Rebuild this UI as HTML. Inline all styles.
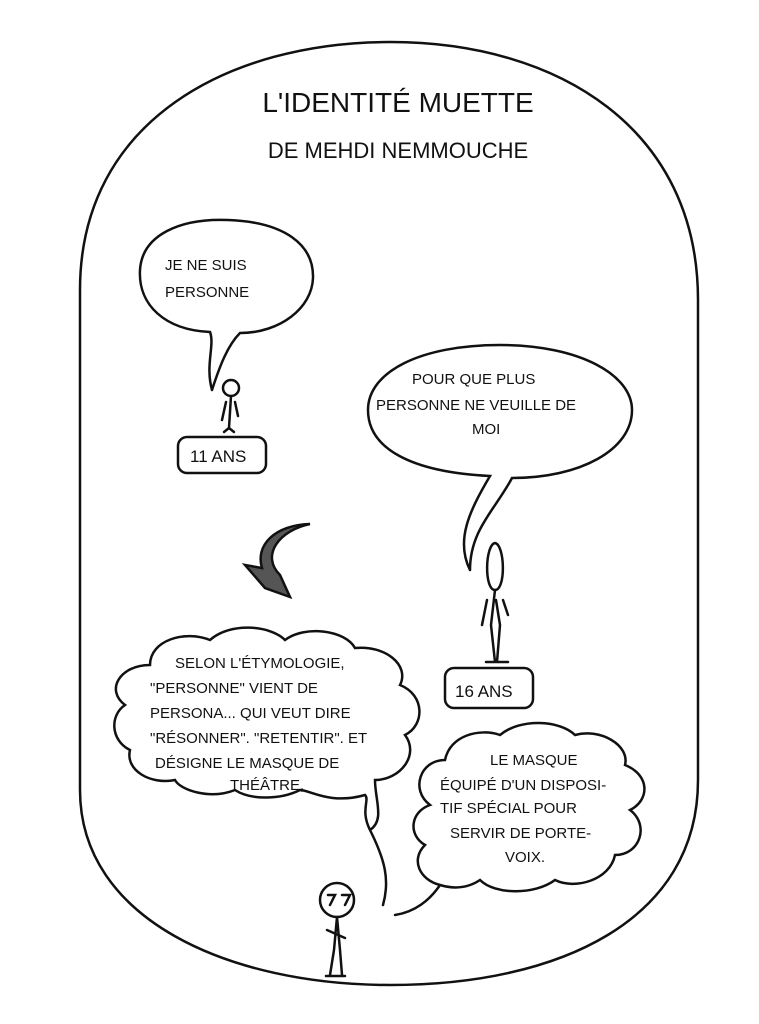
<!DOCTYPE html>
<html><head><meta charset="utf-8"><style>
html,body{margin:0;padding:0;background:#fff;}
svg{display:block}
text{font-family:"Liberation Sans",sans-serif;fill:#111;font-variant:small-caps;text-transform:uppercase}
</style></head><body>
<svg width="759" height="1024" viewBox="0 0 759 1024" xmlns="http://www.w3.org/2000/svg">
<g fill="none" stroke="#111" stroke-width="2.5" stroke-linecap="round">
<!-- frame -->
<path d="M80,290 C80,120 230,42 390,42 C560,42 698,130 698,300 L698,780 C698,920 560,985 390,985 C230,985 80,920 80,790 Z"/>
<!-- bubble 1 -->
<path d="M212,390 C205,365 215,345 210,332 C165,330 138,305 140,270 C142,235 180,218 228,220 C285,222 314,245 313,278 C312,308 280,333 240,333 C228,345 220,365 212,390"/>
<!-- fig 11 -->
<circle cx="231" cy="388" r="8"/>
<path d="M231,396 L229,428 M226,402 L222,420 M235,402 L238,416 M229,428 L224,432 M229,428 L234,432"/>
<rect x="178" y="437" width="88" height="36" rx="9"/>
<!-- bubble 2 -->
<path d="M470,570 C455,540 470,510 490,476 C410,472 368,448 368,410 C368,372 420,345 500,345 C580,345 632,375 632,410 C632,450 580,478 512,478 C495,510 470,530 470,570"/>
<!-- fig 16 -->
<path d="M495,543 C485,545 484,590 495,590 C506,590 505,545 495,543 Z"/>
<path d="M495,590 L491,625 L495,662 M496,600 L500,625 L497,662 M487,600 L482,625 M503,600 L508,615 M486,662 L508,662"/>
<rect x="445" y="668" width="88" height="40" rx="9"/>
<!-- arrow -->
<path d="M310,524 C280,530 260,555 280,575 L290,597 L265,588 L245,565 L262,568 C255,545 275,525 310,524 Z" fill="#555"/>
<!-- cloud 1 -->
<path d="M370,830 C360,810 370,800 365,795 C330,805 310,790 300,790 C280,800 250,800 235,790 C210,800 180,790 175,780 C150,785 125,770 130,750 C110,740 110,715 125,705 C105,690 120,665 150,665 C150,640 185,630 210,640 C230,622 270,625 285,640 C305,625 345,630 355,648 C385,645 410,665 400,685 C425,695 425,725 405,735 C420,755 400,780 375,780 C375,800 385,820 370,830 C385,860 390,880 383,905"/>
<!-- cloud 2 -->
<path d="M395,915 C415,912 430,900 440,885 C420,880 410,860 425,845 C408,835 410,812 430,805 C410,790 420,760 445,760 C450,735 480,728 500,735 C520,718 560,720 575,735 C600,728 630,745 625,765 C650,775 650,800 630,810 C650,825 640,855 615,855 C610,880 575,890 555,880 C535,895 495,895 480,880 C465,890 450,888 440,885"/>
<!-- bottom fig -->
<circle cx="337" cy="900" r="17"/>
<path d="M328,895 L335,895 L330,905 M342,895 L350,895 L345,905"/>
<path d="M337,917 L334,950 L330,975 M337,917 L340,950 L342,975 M327,930 L345,938 M326,976 L345,976"/>
</g>
<text x="398" y="112" font-size="28" text-anchor="middle">L'identité muette</text>
<text x="398" y="158" font-size="22" text-anchor="middle">de Mehdi Nemmouche</text>
<g font-size="15">
<text x="165" y="270">Je ne suis</text>
<text x="165" y="297">personne</text>
<text x="190" y="462" font-size="17">11 ans</text>
<text x="412" y="384">Pour que plus</text>
<text x="376" y="410">personne ne veuille de</text>
<text x="472" y="434">moi</text>
<text x="455" y="697" font-size="17">16 ans</text>
<text x="175" y="668">Selon l'étymologie,</text>
<text x="150" y="693">"personne" vient de</text>
<text x="150" y="718">persona... qui veut dire</text>
<text x="150" y="743">"résonner". "retentir". et</text>
<text x="155" y="768">désigne le masque de</text>
<text x="230" y="790">théâtre,</text>
<text x="490" y="765">le masque</text>
<text x="440" y="790">équipé d'un disposi-</text>
<text x="440" y="813">tif spécial pour</text>
<text x="450" y="838">servir de porte-</text>
<text x="505" y="862">voix.</text>
</g>
</svg>
</body></html>
